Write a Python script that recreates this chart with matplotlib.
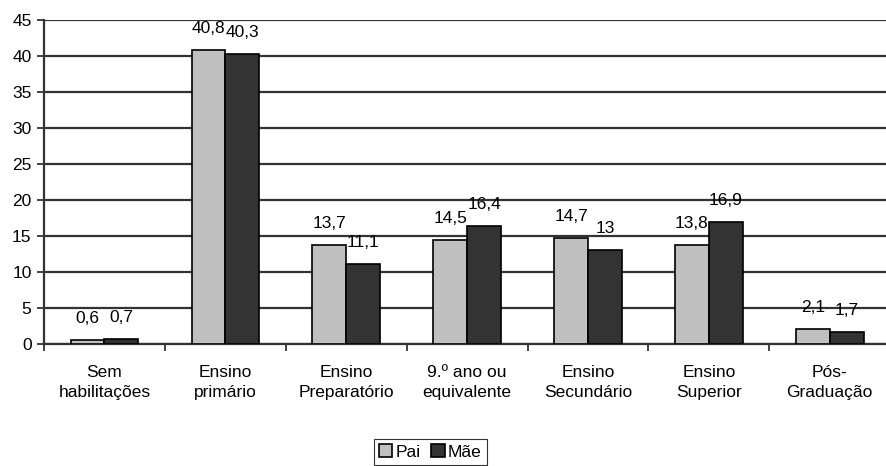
import matplotlib
matplotlib.use("Agg")
import matplotlib.pyplot as plt
import numpy as np

plt.rcParams['font.family'] = ['Liberation Sans', 'DejaVu Sans']

categories = ["Sem\nhabilitações", "Ensino\nprimário", "Ensino\nPreparatório",
              "9.º ano ou\nequivalente", "Ensino\nSecundário", "Ensino\nSuperior",
              "Pós-\nGraduação"]
pai = [0.6, 40.8, 13.7, 14.5, 14.7, 13.8, 2.1]
mae = [0.7, 40.3, 11.1, 16.4, 13.0, 16.9, 1.7]
series_names = ["Pai", "Mãe"]
yticks = list(range(0, 50, 5))

FS = 12.5

def fmt(v):
    s = ("%.1f" % v).rstrip("0").rstrip(".")
    return s.replace(".", ",")

fig = plt.figure(figsize=(8.86, 4.66), dpi=100)
ax = fig.add_axes([0.0497, 0.262, 0.955, 0.695])

x = np.arange(len(categories))
w = 0.28
b1 = ax.bar(x - w / 2, pai, w, color="#C0C0C0", edgecolor="black", linewidth=1.2,
            label=series_names[0], zorder=3)
b2 = ax.bar(x + w / 2, mae, w, color="#333333", edgecolor="black", linewidth=1.2,
            label=series_names[1], zorder=3)

for bars, vals in ((b1, pai), (b2, mae)):
    for r, v in zip(bars, vals):
        ax.annotate(fmt(v), (r.get_x() + r.get_width() / 2, v),
                    xytext=(0, 10), textcoords="offset points",
                    ha="center", va="bottom", fontsize=FS, color="black", zorder=4)

ax.set_xlim(-0.5, len(categories) - 0.5)
ax.set_ylim(0, 45)
ax.set_yticks(yticks)
ax.set_yticklabels([str(t) for t in yticks], fontsize=FS)
ax.yaxis.grid(True, color="#333333", linewidth=1.6, zorder=0)

ax.set_xticks(np.arange(len(categories) + 1) - 0.5)
ax.set_xticklabels([])
ax.set_xticks(x, minor=True)
ax.set_xticklabels(categories, minor=True, fontsize=FS, linespacing=1.45)
ax.tick_params(axis="x", which="minor", length=0, pad=15)
ax.tick_params(axis="x", which="major", length=5, width=1.3, color="#333333", direction="out")
ax.tick_params(axis="y", length=5, width=1.3, color="#333333", direction="out", pad=4)

for s in ("top", "right"):
    ax.spines[s].set_visible(False)
for s in ("left", "bottom"):
    ax.spines[s].set_color("#333333")
    ax.spines[s].set_linewidth(1.6)

leg = fig.legend(handles=[b1, b2], labels=series_names, loc="upper center",
                 bbox_to_anchor=(0.486, 0.058), ncol=2, fontsize=FS, frameon=True,
                 fancybox=False, edgecolor="black", handlelength=0.75, handleheight=0.75,
                 handletextpad=0.2, columnspacing=0.6, borderpad=0.3, borderaxespad=0)
leg.get_frame().set_linewidth(0.8)

fig.savefig("out.png", dpi=100)
